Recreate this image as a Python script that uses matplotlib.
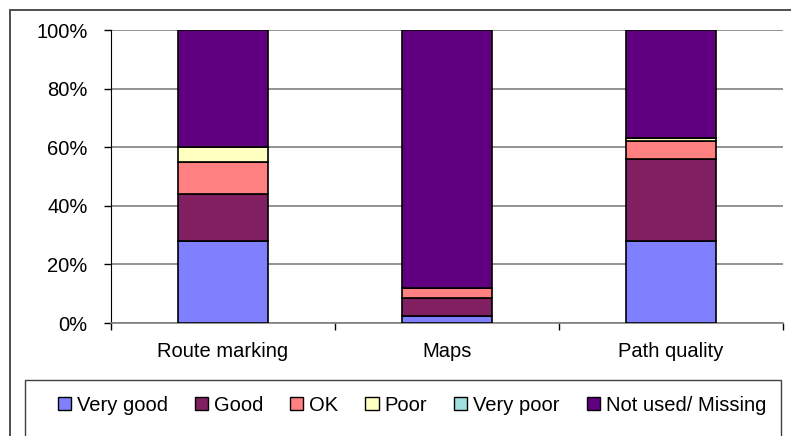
import matplotlib
matplotlib.use("Agg")
import matplotlib.pyplot as plt
from matplotlib.patches import Rectangle
import numpy as np

categories = ["Route marking", "Maps", "Path quality"]
series_names = ["Very good", "Good", "OK", "Poor", "Very poor", "Not used/ Missing"]
very_good = [28, 2.4, 28]
good = [16, 6.3, 28]
ok = [11, 3.3, 6]
poor = [5, 0, 1]
very_poor = [0, 0, 0]
not_used = [40, 88, 37]
series_values = [very_good, good, ok, poor, very_poor, not_used]
colors = ["#8080FF", "#802060", "#FF8080", "#FFFFC0", "#A0E0E0", "#600080"]
yticks = [0, 20, 40, 60, 80, 100]
ytick_labels = ["0%", "20%", "40%", "60%", "80%", "100%"]

plt.rcParams['font.family'] = ['Liberation Sans', 'DejaVu Sans']

W, H = 791, 436
fig = plt.figure(figsize=(W / 100, H / 100), dpi=100)

# outer chart border
fig.patches.append(Rectangle((10 / W, -0.1), (W + 5 - 10) / W, 1.1 - 10 / H,
                             transform=fig.transFigure, fill=False,
                             edgecolor="#404040", linewidth=1.3))
# legend box
fig.patches.append(Rectangle((25 / W, -0.1), (781 - 25) / W, 0.1 + (436 - 380) / H,
                             transform=fig.transFigure, fill=False,
                             edgecolor="#404040", linewidth=1.0))

ax = fig.add_axes([111 / W, 1 - 323 / H, (783 - 111) / W, (323 - 30) / H])

x = np.arange(len(categories)) + 0.5
bottom = np.zeros(len(categories))
handles = []
for name, vals, c in zip(series_names, series_values, colors):
    vals = np.array(vals, dtype=float)
    b = ax.bar(x, vals, width=0.4, bottom=bottom, color=c, edgecolor="black",
               linewidth=1.2, label=name, zorder=3)
    handles.append(b)
    bottom += vals

ax.set_xlim(0, 3)
ax.set_ylim(0, 100)
ax.set_yticks(yticks)
ax.set_yticklabels(ytick_labels, fontsize=14.5)
ax.set_xticks([0, 1, 2, 3])
ax.set_xticklabels([])
ax.set_xticks(x, minor=True)
ax.set_xticklabels(categories, minor=True, fontsize=14.5)
ax.tick_params(axis="x", which="minor", length=0, pad=14)
ax.tick_params(axis="x", which="major", length=5, color="black", width=1)
ax.tick_params(axis="y", length=5, color="black", width=1, pad=12)
ax.yaxis.grid(True, color="#808080", linewidth=1.2, zorder=0)
for s in ["top", "right"]:
    ax.spines[s].set_visible(False)
ax.spines["left"].set_color("black")
ax.spines["bottom"].set_color("#808080")
ax.spines["bottom"].set_linewidth(1.2)

leg = fig.legend(handles=handles, labels=series_names, loc="center",
                 bbox_to_anchor=(412 / W, 1 - 405 / H),
                 ncol=6, fontsize=14.5, frameon=False,
                 handlelength=0.65, handleheight=0.65,
                 handletextpad=0.3, columnspacing=1.34, borderaxespad=0)
for h in leg.legend_handles:
    h.set_edgecolor("black")
    h.set_linewidth(1.0)

fig.savefig("out.png", dpi=100)
